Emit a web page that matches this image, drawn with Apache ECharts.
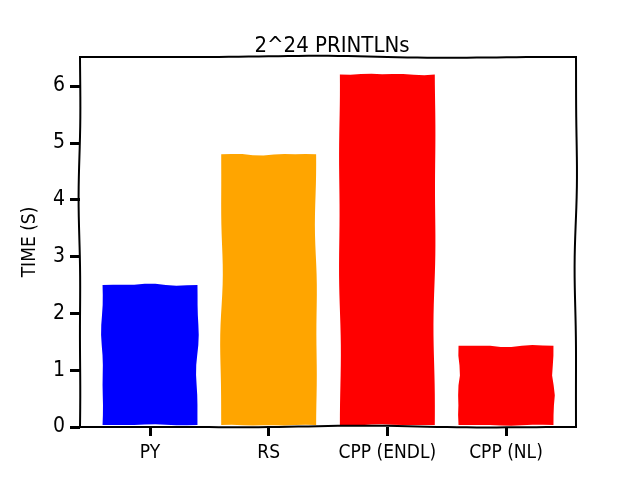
<!DOCTYPE html>
<html><head><meta charset="utf-8">
<script src="https://cdn.jsdelivr.net/npm/echarts@6/dist/echarts.min.js"></script>
<style>html,body{margin:0;padding:0;background:#fff}#c{width:640px;height:480px}</style>
</head><body><div id="c"></div>
<script>
const categories = ['PY', 'RS', 'CPP (ENDL)', 'CPP (NL)'];
const times = [2.5, 4.8, 6.2, 1.43];
const barColors = ['#0000ff', '#ffa500', '#ff0000', '#ff0000'];
const yTicks = [0, 1, 2, 3, 4, 5, 6];
const titleText = '2^24 PRINTLNs';
const yName = 'TIME (S)';

const FONT = '"Liberation Sans Narrow", "DejaVu Sans Condensed", sans-serif';

function wobble(a, b, seed, amp) {
  const dx = b[0] - a[0], dy = b[1] - a[1];
  const len = Math.sqrt(dx * dx + dy * dy) || 1;
  const nx = -dy / len, ny = dx / len;
  const n = Math.max(2, Math.round(len / 10));
  const pts = [];
  for (let i = 0; i <= n; i++) {
    const t = i / n;
    const env = Math.sin(Math.PI * t);
    const o = amp * env * (0.6 * Math.sin(t * 6.3 + seed) + 0.4 * Math.sin(t * 14.1 + seed * 1.7));
    pts.push([a[0] + dx * t + nx * o, a[1] + dy * t + ny * o]);
  }
  return pts;
}

const barData = categories.map((c, i) => [i, times[i], i]);

const chart = echarts.init(document.getElementById('c'));
chart.setOption({
  animation: false,
  title: {
    text: titleText, left: 327, top: 30, textAlign: 'center',
    textStyle: { fontFamily: FONT, fontSize: 22, fontWeight: 'normal', color: '#000' }
  },
  grid: { left: 80, right: 64, top: 57, bottom: 53 },
  xAxis: {
    type: 'value', min: -0.59, max: 3.59,
    splitLine: { show: false }, axisLine: { show: false, onZero: false },
    axisTick: { show: true, customValues: [0, 1, 2, 3], length: 9, lineStyle: { color: '#000', width: 3 } },
    axisLabel: {
      customValues: [0, 1, 2, 3], margin: 17,
      formatter: v => categories[Math.round(v)],
      fontFamily: FONT, fontSize: 19, color: '#000'
    }
  },
  yAxis: {
    type: 'value', min: 0, max: 6.51,
    name: yName, nameLocation: 'middle', nameGap: 40,
    nameTextStyle: { fontFamily: FONT, fontSize: 19, color: '#000' },
    splitLine: { show: false }, axisLine: { show: false, onZero: false },
    axisTick: { show: true, customValues: yTicks, length: 10, lineStyle: { color: '#000', width: 3 } },
    axisLabel: { customValues: yTicks, margin: 15, fontFamily: FONT, fontSize: 21, color: '#000' }
  },
  series: [
    {
      type: 'custom', data: barData, z: 2,
      renderItem: function (params, api) {
        const x = api.value(0), v = api.value(1), ci = api.value(2);
        const p0 = api.coord([x - 0.4, 0]);
        const p1 = api.coord([x + 0.4, v]);
        const bl = [p0[0], p0[1] - 2], tl = [p0[0], p1[1]], tr = [p1[0], p1[1]], br = [p1[0], p0[1] - 2];
        const s = ci * 3.1 + 0.7;
        const pts = [].concat(
          wobble(bl, tl, s, 1.8),
          wobble(tl, tr, s + 1.3, 1.6),
          wobble(tr, br, s + 2.6, 1.8),
          wobble(br, bl, s + 3.9, 0.8)
        );
        return { type: 'polygon', shape: { points: pts }, style: { fill: barColors[ci] } };
      }
    },
    {
      type: 'custom', data: [[0, 0]], z: 5, silent: true,
      renderItem: function (params, api) {
        const cs = params.coordSys;
        const L = cs.x, T = cs.y, R = cs.x + cs.width, B = cs.y + cs.height;
        const pts = [].concat(
          wobble([L, B], [L, T], 1.1, 1.6),
          wobble([L, T], [R, T], 2.3, 1.4),
          wobble([R, T], [R, B], 3.7, 1.6),
          wobble([R, B], [L, B], 4.9, 1.4)
        );
        return { type: 'polygon', shape: { points: pts }, style: { fill: 'none', stroke: '#000', lineWidth: 2 } };
      }
    }
  ]
});
</script></body></html>
